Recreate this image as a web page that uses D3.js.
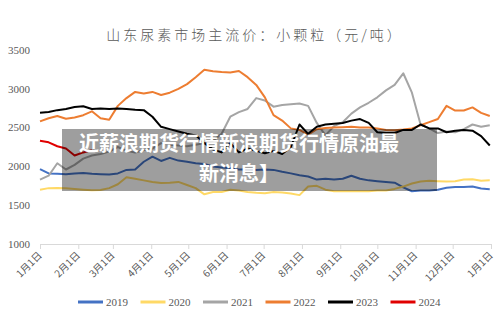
<!DOCTYPE html>
<html>
<head>
<meta charset="utf-8">
<script src="https://cdn.jsdelivr.net/npm/d3@7"></script>
<style>
  html, body { margin: 0; padding: 0; background: #fff; }
  svg { display: block; }
</style>
</head>
<body>
<svg id="chart" width="500" height="321"></svg>
<script>
// weekly sample dates (month-day), one shared x category list
const dates = [
  '01-01', '01-08', '01-15', '01-22', '01-29',
  '02-05', '02-12', '02-19', '02-26',
  '03-05', '03-12', '03-19', '03-26',
  '04-02', '04-09', '04-16', '04-23', '04-30',
  '05-07', '05-14', '05-21', '05-28',
  '06-04', '06-11', '06-18', '06-25',
  '07-02', '07-09', '07-16', '07-23', '07-30',
  '08-06', '08-13', '08-20', '08-27',
  '09-03', '09-10', '09-17', '09-24',
  '10-01', '10-08', '10-15', '10-22', '10-29',
  '11-05', '11-12', '11-19', '11-26',
  '12-03', '12-10', '12-17', '12-24', '12-31'
];

const years = ['2019', '2020', '2021', '2022', '2023', '2024'];
const colors = ['#4472c4', '#ffd966', '#a5a5a5', '#ed7d31', '#000000', '#e00000'];

const v2019 = [1965, 1910, 1905, 1900, 1910, 1915, 1905, 1900, 1895, 1910, 1955, 1960, 2060,
  2125, 2070, 2110, 2075, 2060, 2040, 2030, 2000, 1985, 1975, 1960, 1960, 1955, 1960,
  1955, 1930, 1910, 1885, 1870, 1830, 1840, 1830, 1840, 1880, 1840, 1820, 1810, 1800,
  1790, 1730, 1680, 1690, 1690, 1700, 1725, 1735, 1735, 1740, 1715, 1705];
const v2020 = [1700, 1720, 1722, 1718, 1710, 1700, 1692, 1695, 1720, 1770, 1860, 1840, 1820,
  1800, 1785, 1790, 1800, 1760, 1720, 1640, 1670, 1670, 1700, 1690, 1670, 1660, 1655,
  1670, 1665, 1650, 1630, 1740, 1750, 1700, 1680, 1680, 1680, 1680, 1680, 1690, 1690,
  1710, 1740, 1780, 1805, 1815, 1810, 1805, 1810, 1830, 1835, 1815, 1820];
const v2021 = [1830, 1880, 2040, 1960, 2020, 2100, 2140, 2160, 2190, 2250, 2200, 2180, 2210,
  2230, 2300, 2280, 2270, 2260, 2280, 2300, 2330, 2420, 2640, 2700, 2740, 2880, 2850,
  2770, 2790, 2800, 2810, 2780, 2560, 2400, 2520, 2570, 2680, 2760, 2820, 2890, 2980,
  3050, 3200, 2950, 2540, 2490, 2430, 2450, 2440, 2480, 2540, 2510, 2530];
const v2022 = [2580, 2620, 2650, 2615, 2630, 2660, 2710, 2620, 2600, 2780, 2880, 2960, 2940,
  2960, 2920, 2950, 3000, 3060, 3150, 3245, 3225, 3215, 3210, 3230, 3150, 3050, 2890,
  2660, 2590, 2490, 2470, 2410, 2480, 2495, 2500, 2505, 2510, 2500, 2500, 2490, 2470,
  2465, 2475, 2490, 2530, 2570, 2610, 2780, 2720, 2720, 2760, 2690, 2650];
const v2023 = [2690, 2700, 2725, 2740, 2765, 2775, 2740, 2745, 2740, 2745, 2740, 2730, 2725,
  2640, 2510, 2480, 2450, 2420, 2400, 2300, 2220, 2180, 2300, 2180, 2230, 2200, 2170,
  2200, 2160, 2250, 2540, 2420, 2510, 2540, 2550, 2560, 2590, 2610, 2560, 2440, 2430,
  2430, 2470, 2470, 2540, 2490, 2490, 2440, 2460, 2470, 2460, 2390, 2270];
const v2024 = [2330, 2310, 2260, 2230, 2140, 2180, 2210];

const yTicks = [1000, 1500, 2000, 2500, 3000, 3500];
const title = '山东尿素市场主流价：小颗粒（元/吨）';
const bannerLines = ['近薪浪期货行情新浪期货行情原油最', '新消息】'];

const svg = d3.select('#chart');
const parse = d3.timeParse('%Y-%m-%d');
const toDate = md => parse('2021-' + md);

const x = d3.scaleTime()
  .domain([parse('2021-01-01'), parse('2022-01-01')])
  .range([40, 491]);
const y = d3.scaleLinear().domain([1000, 3500]).range([244, 50]);

const grey = '#595959';
const serif = '"Liberation Serif", "DejaVu Serif", serif';

// title
svg.append('text')
  .attr('x', 255).attr('y', 40)
  .attr('text-anchor', 'middle')
  .attr('fill', grey)
  .style('font-family', '"Noto Sans CJK SC", sans-serif')
  .style('font-size', '14px')
  .style('font-weight', 300)
  .style('letter-spacing', '3px')
  .text(title);

// y axis labels only (no line, no grid)
svg.append('g').selectAll('text')
  .data(yTicks)
  .join('text')
  .attr('x', 30).attr('y', d => y(d))
  .attr('dy', '0.35em')
  .attr('text-anchor', 'end')
  .attr('fill', grey)
  .style('font-family', serif)
  .style('font-size', '11px')
  .text(d => d);

// x axis
const xAxis = d3.axisBottom(x)
  .ticks(d3.timeMonth.every(1))
  .tickSize(5)
  .tickFormat(d3.timeFormat('%-m月%-d日'));

const gx = svg.append('g')
  .attr('transform', 'translate(0,244)')
  .call(xAxis);
gx.select('.domain').attr('stroke', '#d9d9d9');
gx.selectAll('.tick line').attr('stroke', '#d9d9d9');
gx.selectAll('.tick text')
  .attr('fill', grey)
  .style('font-family', '"Noto Sans CJK SC", sans-serif')
  .style('font-size', '10px')
  .attr('text-anchor', 'end')
  .attr('dy', 0)
  .attr('y', 0)
  .attr('transform', 'translate(2,12) rotate(-45)');

// series lines
const series = [v2019, v2020, v2021, v2022, v2023, v2024];
const line = d3.line()
  .defined(d => d[1] != null)
  .x(d => x(toDate(d[0])))
  .y(d => y(d[1]));

svg.append('g').selectAll('path')
  .data(series)
  .join('path')
  .attr('fill', 'none')
  .attr('stroke', (d, i) => colors[i])
  .attr('stroke-width', 2)
  .attr('stroke-linejoin', 'round')
  .attr('d', vals => line(vals.map((v, i) => [dates[i], v])));

// legend
const lg = svg.append('g').selectAll('g')
  .data(years)
  .join('g')
  .attr('transform', (d, i) => `translate(${78 + i * 62.5},302)`);
lg.append('line')
  .attr('x1', 0).attr('x2', 25)
  .attr('stroke', (d, i) => colors[i])
  .attr('stroke-width', 3);
lg.append('text')
  .attr('x', 28).attr('dy', '0.35em')
  .attr('fill', grey)
  .style('font-family', serif)
  .style('font-size', '11px')
  .text(d => d);

// grey banner laid over the chart
svg.append('rect')
  .attr('x', 62).attr('y', 129)
  .attr('width', 375).attr('height', 62)
  .attr('fill', 'rgba(0,0,0,0.38)');

// one text block, wrapped into two centred lines
const banner = svg.append('text')
  .attr('text-anchor', 'middle')
  .attr('fill', '#fff')
  .style('font-family', '"Noto Sans CJK SC", sans-serif')
  .style('font-size', '20px')
  .style('font-weight', 700);
banner.selectAll('tspan')
  .data(bannerLines)
  .join('tspan')
  .attr('x', 239)
  .attr('y', (d, i) => 151 + i * 29.5)
  .text(d => d);
</script>
</body>
</html>
